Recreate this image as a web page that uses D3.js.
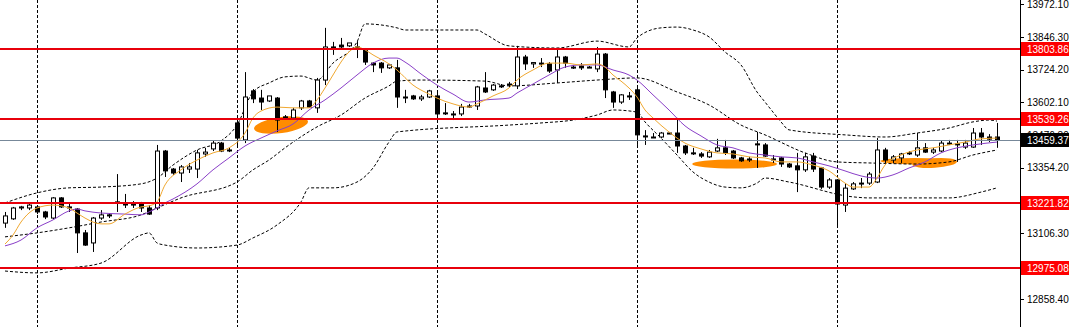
<!DOCTYPE html>
<html>
<head>
<meta charset="utf-8">
<script src="https://cdn.jsdelivr.net/npm/d3@7"></script>
<style>
  html, body { margin: 0; padding: 0; background: #fff; }
  svg { display: block; }
  text { font-family: "Liberation Sans", Arial, sans-serif; font-size: 10px; }
</style>
</head>
<body>
<svg id="chart" width="1072" height="327"></svg>
<script>
var width = 1072,
   height = 327,
   axisX = 1020;

// candles, left to right
var opens = [13145, 13161, 13202, 13202, 13206, 13187, 13164, 13240, 13206, 13198,
   13108, 13070, 13164, 13176, 13225, 13217, 13217, 13221, 13202, 13202,
   13417, 13349, 13334, 13349, 13349, 13406, 13425, 13447, 13421, 13523,
   13459, 13644, 13617, 13606, 13617, 13546, 13542, 13580, 13606, 13580,
   13685, 13810, 13817, 13814, 13810, 13802, 13749, 13749, 13731, 13731,
   13621, 13625, 13614, 13621, 13625, 13561, 13557, 13557, 13585, 13587,
   13655, 13648, 13663, 13670, 13663, 13772, 13746, 13749, 13746, 13723,
   13772, 13734, 13738, 13734, 13727, 13783, 13640, 13602, 13625, 13648,
   13474, 13470, 13470, 13485, 13485, 13436, 13410, 13406, 13395, 13417,
   13429, 13417, 13391, 13387, 13444, 13440, 13387, 13391, 13368, 13361,
   13346, 13398, 13353, 13281, 13308, 13213, 13274, 13293, 13296, 13300,
   13421, 13383, 13391, 13410, 13402, 13429, 13413, 13417, 13447, 13444,
   13432, 13432, 13485, 13470, 13470];
var highs = [13187, 13206, 13210, 13221, 13213, 13191, 13243, 13243, 13217, 13202,
   13119, 13168, 13194, 13183, 13330, 13255, 13228, 13225, 13213, 13440,
   13421, 13353, 13364, 13372, 13421, 13429, 13455, 13451, 13429, 13534,
   13715, 13651, 13648, 13625, 13621, 13553, 13580, 13610, 13610, 13693,
   13882, 13829, 13844, 13825, 13832, 13806, 13753, 13753, 13746, 13761,
   13648, 13629, 13629, 13648, 13636, 13598, 13568, 13595, 13595, 13663,
   13715, 13670, 13670, 13678, 13814, 13780, 13753, 13768, 13753, 13806,
   13776, 13742, 13749, 13738, 13810, 13787, 13644, 13632, 13640, 13659,
   13496, 13485, 13489, 13489, 13542, 13440, 13429, 13413, 13421, 13463,
   13459, 13421, 13395, 13395, 13489, 13447, 13402, 13395, 13372, 13410,
   13410, 13410, 13357, 13315, 13311, 13296, 13300, 13315, 13338, 13466,
   13429, 13402, 13410, 13417, 13485, 13447, 13429, 13455, 13459, 13459,
   13459, 13504, 13504, 13481, 13523];
var lows = [13127, 13157, 13194, 13194, 13179, 13160, 13160, 13202, 13187, 13032,
   13059, 13036, 13157, 13164, 13187, 13202, 13202, 13187, 13176, 13194,
   13319, 13327, 13300, 13334, 13315, 13395, 13417, 13413, 13413, 13432,
   13447, 13598, 13572, 13602, 13489, 13538, 13538, 13572, 13580, 13561,
   13666, 13780, 13806, 13810, 13768, 13742, 13715, 13712, 13727, 13580,
   13598, 13610, 13606, 13617, 13542, 13553, 13534, 13549, 13580, 13572,
   13636, 13644, 13655, 13659, 13651, 13723, 13731, 13734, 13712, 13674,
   13731, 13727, 13723, 13731, 13715, 13617, 13580, 13595, 13610, 13440,
   13440, 13466, 13466, 13481, 13410, 13402, 13402, 13391, 13391, 13413,
   13402, 13387, 13376, 13376, 13353, 13395, 13372, 13357, 13353, 13262,
   13338, 13338, 13274, 13274, 13127, 13187, 13270, 13277, 13289, 13296,
   13372, 13372, 13372, 13402, 13395, 13410, 13406, 13413, 13440, 13376,
   13425, 13429, 13440, 13451, 13429];
var closes = [13172, 13202, 13206, 13213, 13187, 13168, 13240, 13206, 13202, 13108,
   13062, 13164, 13176, 13172, 13221, 13215, 13213, 13202, 13179, 13417,
   13342, 13334, 13357, 13357, 13410, 13413, 13447, 13417, 13419, 13466,
   13621, 13614, 13602, 13625, 13534, 13544, 13572, 13606, 13583, 13685,
   13810, 13808, 13810, 13825, 13802, 13753, 13742, 13731, 13742, 13621,
   13619, 13614, 13621, 13644, 13557, 13559, 13555, 13583, 13587, 13659,
   13640, 13666, 13662, 13669, 13772, 13746, 13751, 13748, 13719, 13772,
   13749, 13733, 13731, 13733, 13783, 13648, 13602, 13629, 13624, 13478,
   13473, 13469, 13485, 13484, 13436, 13410, 13409, 13398, 13413, 13429,
   13410, 13391, 13380, 13386, 13443, 13398, 13386, 13368, 13357, 13346,
   13395, 13349, 13281, 13308, 13217, 13277, 13293, 13296, 13330, 13421,
   13383, 13395, 13406, 13409, 13429, 13413, 13421, 13447, 13446, 13443,
   13447, 13485, 13470, 13462, 13459.37];

// indicator lines: [bar, price]
var maFast = [[0, 13066], [1, 13100], [2, 13149], [3, 13183], [4, 13202], [6, 13213], [8, 13202],
   [9, 13183], [10, 13164], [12, 13142], [13, 13142], [15, 13179], [17, 13206], [18, 13210],
   [19, 13225], [20, 13289], [22, 13346], [24, 13383], [26, 13410], [28, 13429], [30, 13485],
   [31, 13542], [32, 13568], [34, 13583], [36, 13580], [38, 13580], [39, 13610], [40, 13655],
   [41, 13704], [42, 13753], [43, 13791], [44, 13810], [45, 13799], [46, 13780], [48, 13746],
   [49, 13723], [51, 13666], [53, 13632], [54, 13617], [56, 13595], [58, 13583], [59, 13595],
   [61, 13625], [63, 13655], [64, 13685], [66, 13723], [68, 13749], [70, 13749], [72, 13742],
   [74, 13746], [75, 13734], [76, 13704], [77, 13681], [78, 13655], [79, 13621], [80, 13572],
   [81, 13542], [83, 13489], [85, 13447], [87, 13425], [89, 13410], [91, 13406], [93, 13395],
   [95, 13391], [97, 13376], [99, 13376], [101, 13364], [103, 13342], [105, 13296], [106, 13281],
   [108, 13281], [109, 13315], [110, 13364], [112, 13402], [114, 13421], [116, 13429],
   [118, 13440], [120, 13451], [122, 13463], [124, 13466]];
var maSlow = [[0, 13059], [2, 13081], [4, 13127], [6, 13157], [8, 13191], [9, 13198], [10, 13191],
   [12, 13183], [15, 13179], [17, 13176], [18, 13187], [19, 13202], [20, 13221], [21, 13236],
   [24, 13293], [26, 13346], [28, 13391], [30, 13436], [32, 13466], [34, 13493], [36, 13519],
   [38, 13572], [40, 13610], [42, 13655], [44, 13704], [46, 13749], [48, 13768], [49, 13768],
   [50, 13753], [52, 13708], [54, 13666], [56, 13632], [58, 13602], [60, 13610], [63, 13617],
   [64, 13636], [66, 13670], [68, 13704], [70, 13734], [72, 13742], [74, 13742], [76, 13723],
   [78, 13704], [79, 13685], [81, 13629], [83, 13572], [85, 13512], [87, 13474], [89, 13440],
   [91, 13429], [93, 13410], [95, 13402], [97, 13395], [99, 13391], [101, 13376], [103, 13361],
   [105, 13342], [107, 13323], [109, 13315], [111, 13327], [113, 13353], [115, 13376],
   [117, 13410], [119, 13429], [121, 13440], [124, 13451]];
var bandUpper = [[0, 13221], [4, 13259], [8, 13278], [12, 13281], [17, 13293], [19, 13315],
   [21, 13364], [24, 13421], [27, 13455], [29, 13515], [31, 13640], [33, 13674], [35, 13697],
   [37, 13700], [39, 13685], [41, 13749], [44, 13829], [45, 13897], [47, 13893], [49, 13882],
   [50, 13874], [59, 13874], [60, 13859], [63, 13814], [69, 13806], [74, 13832], [78, 13810],
   [79, 13844], [82, 13882], [84, 13885], [86, 13874], [88, 13848], [90, 13791], [92, 13742],
   [94, 13640], [95, 13602], [96, 13564], [97, 13527], [98, 13497], [105, 13478], [110, 13470],
   [114, 13485], [118, 13504], [121, 13527], [123, 13534], [124, 13530]];
var bandMiddle = [[0, 13093], [4, 13108], [8, 13127], [12, 13149], [17, 13176], [19, 13202],
   [22, 13240], [29, 13300], [31, 13346], [33, 13383], [35, 13429], [39, 13508], [42, 13553],
   [45, 13617], [48, 13663], [49, 13681], [52, 13685], [60, 13681], [63, 13663], [69, 13674],
   [74, 13685], [79, 13693], [84, 13640], [88, 13591], [92, 13515], [95, 13478], [100, 13410],
   [104, 13376], [108, 13372], [114, 13368], [118, 13376], [121, 13402], [124, 13421]];
var bandLower = [[0, 12964], [4, 12957], [8, 12975], [12, 12994], [17, 13100], [18, 13108],
   [19, 13070], [20, 13062], [24, 13051], [29, 13062], [31, 13089], [34, 13138], [37, 13225],
   [38, 13278], [41, 13278], [44, 13300], [46, 13353], [48, 13451], [49, 13489], [63, 13515],
   [67, 13523], [71, 13534], [74, 13553], [76, 13572], [79, 13564], [80, 13527], [82, 13466],
   [84, 13402], [86, 13338], [88, 13300], [90, 13281], [92, 13278], [94, 13296], [95, 13315],
   [98, 13300], [106, 13244], [108, 13240], [118, 13240], [122, 13262], [124, 13278]];

// horizontal levels, price axis, grid
var levels = [13803.86, 13539.26, 13221.82, 12975.08];
var bidPrice = 13459.37;
var priceTicks = [13972.10, 13846.30, 13724.20, 13602.10, 13476.30, 13354.20, 13106.30, 12858.40];
var gridBars = [4, 29, 54, 79, 104];

// hand-drawn highlights: centre bar, centre price, half-width in bars, half-height in price, tilt
var highlights = [
   { bar: 34.5, price: 13515, bars: 3.4, span: 30, tilt: -8 },
   { bar: 91.2, price: 13368, bars: 5.3, span: 17, tilt: 0 },
   { bar: 113.7, price: 13379, bars: 4.3, span: 12, tilt: 0 },
   { bar: 116.2, price: 13372, bars: 2.8, span: 18, tilt: -4 },
];

var svg = d3.select("#chart");

var x = d3.scaleLinear().domain([0, opens.length - 1]).range([5, 997]);
var y = d3.scaleLinear().domain([12858.4, 13972.1]).range([299, 4]);

//grid
svg.selectAll("line.grid")
   .data(gridBars)
   .enter()
   .append("line")
   .attr("x1", (d) => Math.round(x(d)) + 0.5)
   .attr("x2", (d) => Math.round(x(d)) + 0.5)
   .attr("y1", 0)
   .attr("y2", height)
   .attr("stroke", "#000")
   .attr("stroke-dasharray", "3,2");

//orange highlights
svg.selectAll("ellipse.mark")
   .data(highlights)
   .enter()
   .append("ellipse")
   .attr("cx", 0)
   .attr("cy", 0)
   .attr("rx", (d) => x(d.bars) - x(0))
   .attr("ry", (d) => y(d.price - d.span) - y(d.price))
   .attr("transform", (d) => "translate(" + x(d.bar) + "," + y(d.price) + ") rotate(" + d.tilt + ")")
   .attr("fill", "#ff8c00");

//bollinger bands
var line = d3
   .line()
   .x((d) => x(d[0]))
   .y((d) => y(d[1]))
   .curve(d3.curveMonotoneX);

[bandUpper, bandMiddle, bandLower].forEach(function (band) {
   svg.append("path")
      .datum(band)
      .attr("d", line)
      .attr("fill", "none")
      .attr("stroke", "#000")
      .attr("stroke-width", 1)
      .attr("stroke-dasharray", "3,2");
});

//candles
var bars = d3.range(opens.length);
var candles = svg.append("g");

candles.selectAll("line")
   .data(bars)
   .enter()
   .append("line")
   .attr("x1", (i) => Math.round(x(i)) + 0.5)
   .attr("x2", (i) => Math.round(x(i)) + 0.5)
   .attr("y1", (i) => y(highs[i]))
   .attr("y2", (i) => y(lows[i]))
   .attr("stroke", "#000");

candles.selectAll("rect")
   .data(bars)
   .enter()
   .append("rect")
   .attr("x", (i) => Math.round(x(i)) - 2 + 0.5)
   .attr("y", (i) => y(Math.max(opens[i], closes[i])))
   .attr("width", 4)
   .attr("height", (i) => Math.max(1, Math.abs(y(opens[i]) - y(closes[i]))))
   .attr("fill", (i) => (closes[i] >= opens[i] ? "#fff" : "#000"))
   .attr("stroke", "#000");

//moving averages
svg.append("path")
   .datum(maSlow)
   .attr("d", line)
   .attr("fill", "none")
   .attr("stroke", "#8a3fc8")
   .attr("stroke-width", 1);

svg.append("path")
   .datum(maFast)
   .attr("d", line)
   .attr("fill", "none")
   .attr("stroke", "#f0a830")
   .attr("stroke-width", 1);

//bid line
svg.append("line")
   .attr("x1", 0)
   .attr("x2", axisX)
   .attr("y1", Math.round(y(bidPrice)) + 0.5)
   .attr("y2", Math.round(y(bidPrice)) + 0.5)
   .attr("stroke", "#778899");

//red levels
svg.selectAll("line.level")
   .data(levels)
   .enter()
   .append("line")
   .attr("x1", 0)
   .attr("x2", axisX)
   .attr("y1", (d) => Math.round(y(d)))
   .attr("y2", (d) => Math.round(y(d)))
   .attr("stroke", "#e8000b")
   .attr("stroke-width", 2);

//price axis
svg.append("rect")
   .attr("x", axisX + 1)
   .attr("y", 0)
   .attr("width", width - axisX)
   .attr("height", height)
   .attr("fill", "#fff");

svg.append("line")
   .attr("x1", axisX + 0.5)
   .attr("x2", axisX + 0.5)
   .attr("y1", 0)
   .attr("y2", height)
   .attr("stroke", "#000");

var axis = svg.append("g");
axis.selectAll("line")
   .data(priceTicks)
   .enter()
   .append("line")
   .attr("x1", axisX)
   .attr("x2", axisX + 4)
   .attr("y1", (d) => Math.round(y(d)) + 0.5)
   .attr("y2", (d) => Math.round(y(d)) + 0.5)
   .attr("stroke", "#000");

axis.selectAll("text")
   .data(priceTicks)
   .enter()
   .append("text")
   .attr("x", axisX + 7)
   .attr("y", (d) => y(d))
   .attr("dy", "0.35em")
   .attr("fill", "#000")
   .text((d) => d.toFixed(2));

// value labels on the axis
function priceLabel(value, bg) {
   var g = svg.append("g").attr("transform", "translate(" + (axisX + 1) + "," + Math.round(y(value)) + ")");
   g.append("rect")
      .attr("x", 0)
      .attr("y", -7)
      .attr("width", 48)
      .attr("height", 14)
      .attr("fill", bg);
   g.append("text")
      .attr("x", 6)
      .attr("y", 0)
      .attr("dy", "0.35em")
      .attr("fill", "#fff")
      .text(value.toFixed(2));
}

levels.forEach((d) => priceLabel(d, "#ff0000"));
priceLabel(bidPrice, "#000");
</script>
</body>
</html>
